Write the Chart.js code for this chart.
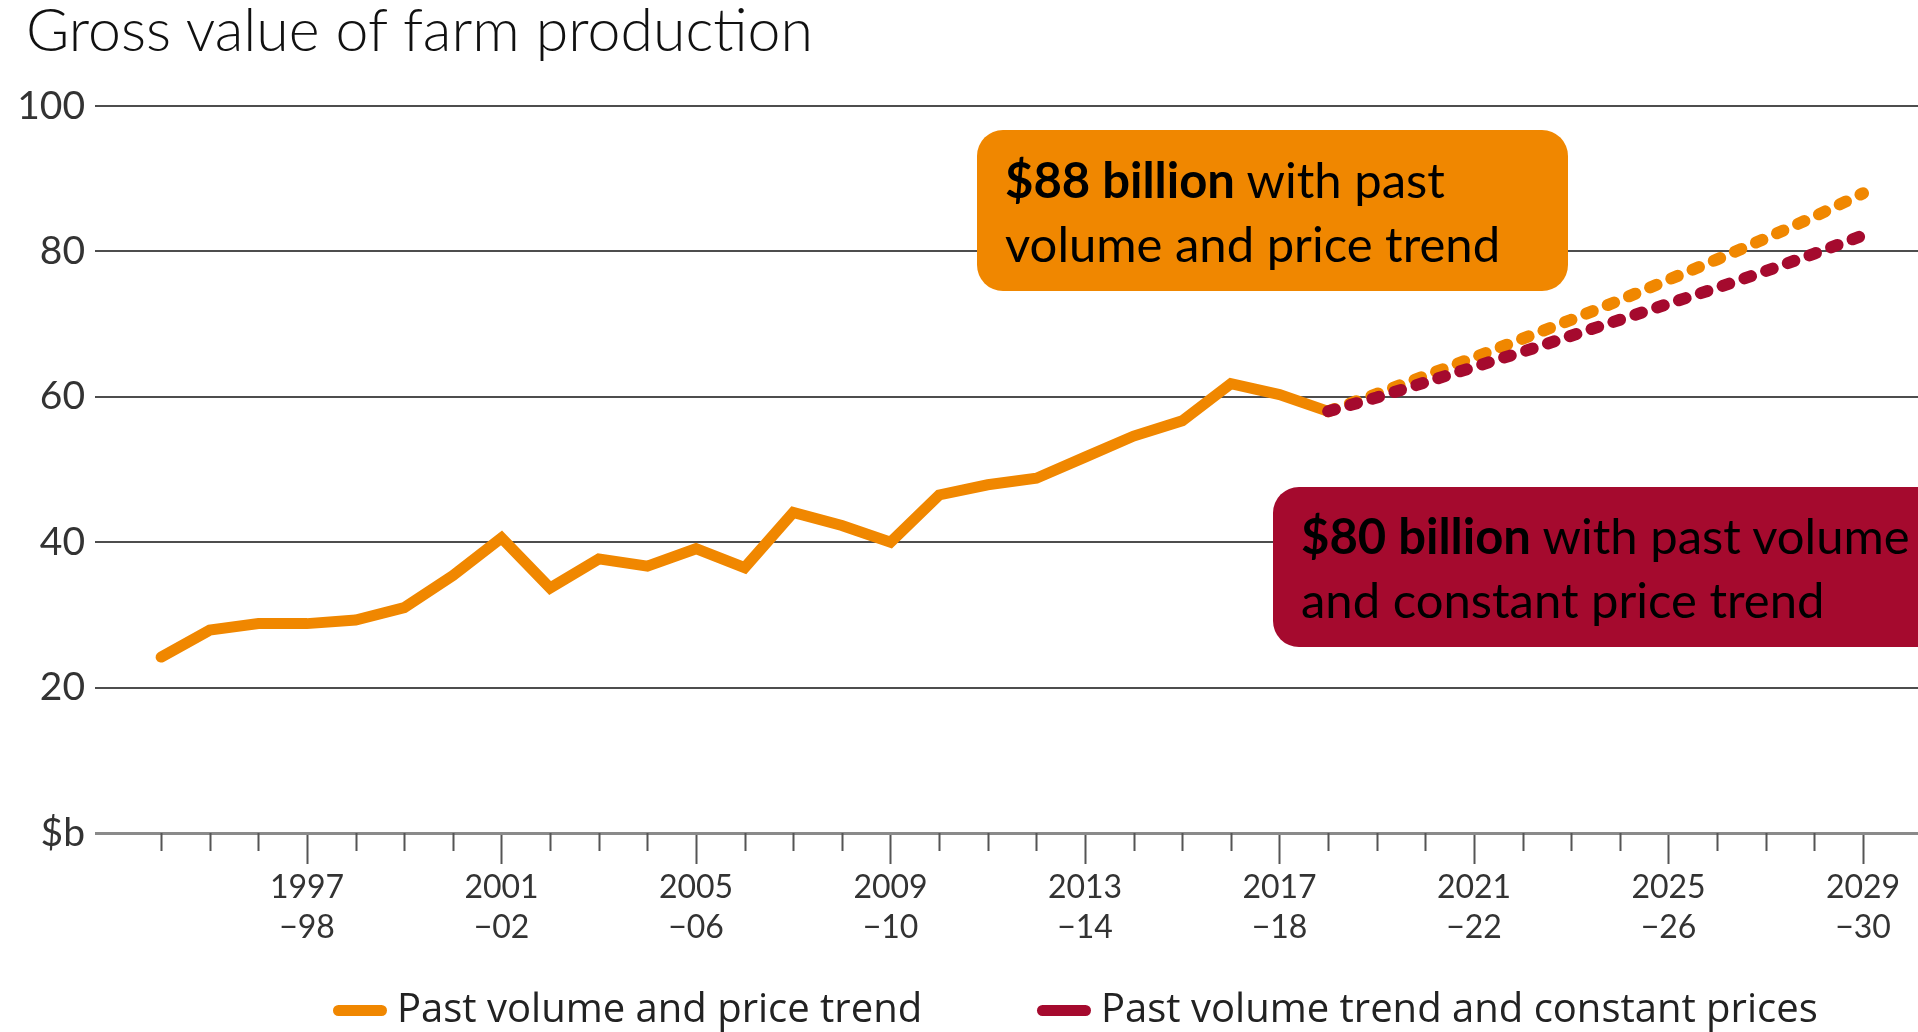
<!DOCTYPE html>
<html>
<head>
<meta charset="utf-8">
<title>Gross value of farm production</title>
<script src="https://cdn.jsdelivr.net/npm/chart.js@4.4.1/dist/chart.umd.min.js"></script>
<style>
  html, body { margin: 0; padding: 0; background: #fff; }
  #wrap { position: relative; width: 1918px; height: 1032px; overflow: hidden; }
  #chart { position: absolute; left: 0; top: 0; }
  .title { position: absolute; left: 26px; top: -6px; font: 300 59px/1.2 Lato, sans-serif; color: #111; white-space: nowrap; }
  .note { position: absolute; box-sizing: border-box; border-radius: 26px; font: 49px/64px Lato, sans-serif; color: #000; white-space: nowrap; padding-left: 28px; }
  .note b { font-weight: 700; }
  .note.orange { left: 977px; top: 130px; width: 591px; height: 161px; padding-top: 17px; background: #F08700; }
  .note.red { left: 1273px; top: 487px; width: 700px; height: 160px; padding-top: 16px; background: #A50A2E; }
  .legend-item { position: absolute; top: 982px; display: flex; align-items: center; font: 40px/50px "Liberation Sans Narrow", "Open Sans", sans-serif; color: #222; white-space: nowrap; }
  .swatch { width: 54px; height: 11px; border-radius: 6px; margin-right: 10px; position: relative; top: 3px; }
</style>
</head>
<body>
<div id="wrap">
  <canvas id="chart" width="1918" height="1032"></canvas>
  <div class="title">Gross value of farm production</div>
  <div class="note orange"><b>$88 billion</b> with past<br>volume and price trend</div>
  <div class="note red"><b>$80 billion</b> with past volume<br>and constant price trend</div>
  <div id="legend"></div>
</div>
<script>
// financial years on the x axis
const years = [
  "1994–95", "1995–96", "1996–97", "1997–98", "1998–99", "1999–00",
  "2000–01", "2001–02", "2002–03", "2003–04", "2004–05", "2005–06",
  "2006–07", "2007–08", "2008–09", "2009–10", "2010–11", "2011–12",
  "2012–13", "2013–14", "2014–15", "2015–16", "2016–17", "2017–18",
  "2018–19", "2019–20", "2020–21", "2021–22", "2022–23", "2023–24",
  "2024–25", "2025–26", "2026–27", "2027–28", "2028–29", "2029–30",
];

// $b, 1994–95 .. 2018–19
const pastValues = [
  24.2, 27.9, 28.8, 28.8, 29.3, 31.0, 35.4, 40.6, 33.7, 37.7,
  36.7, 39.1, 36.5, 44.1, 42.3, 40.0, 46.5, 47.9, 48.8, 51.7,
  54.6, 56.7, 61.8, 60.3, 58.0,
];

// projections, 2018–19 .. 2029–30
const projectionStart = "2018–19";
const trendValues = [58.0, 60.4, 62.9, 65.4, 68.0, 70.6, 73.3, 76.1, 78.9, 81.8, 84.8, 88.0];
const constantPriceValues = [58.0, 59.9, 62.0, 64.1, 66.2, 68.4, 70.6, 72.8, 75.0, 77.3, 79.7, 82.2];

const legendLabels = ["Past volume and price trend", "Past volume trend and constant prices"];
const yTickStep = 20;
const yMax = 100;

const ORANGE = "#F08700";
const RED = "#A50A2E";

const startIdx = years.indexOf(projectionStart);
const isMajor = (i) => i % 4 === 3;

Chart.defaults.font.family = "Lato, sans-serif";

// short tick marks for the in-between years
const minorTicks = {
  id: "minorTicks",
  afterDraw(chart) {
    const xs = chart.scales.x;
    const y0 = chart.scales.y.getPixelForValue(0);
    const ctx = chart.ctx;
    ctx.save();
    ctx.strokeStyle = "#555";
    ctx.lineWidth = 2;
    ctx.beginPath();
    years.forEach((_, i) => {
      if (isMajor(i)) return;
      const x = Math.round(xs.getPixelForValue(i)) + 0.5;
      ctx.moveTo(x, y0);
      ctx.lineTo(x, y0 + 18);
    });
    ctx.stroke();
    ctx.restore();
  },
};

const chart = new Chart(document.getElementById("chart"), {
  type: "line",
  data: {
    datasets: [
      {
        label: legendLabels[1],
        data: constantPriceValues.map((v, i) => ({ x: startIdx + i, y: v })),
        borderColor: RED,
        backgroundColor: RED,
        borderWidth: 12,
        borderDash: [7, 16],
        borderCapStyle: "round",
        pointRadius: 0,
        tension: 0,
        order: 0,
      },
      {
        label: legendLabels[0],
        data: pastValues.map((v, i) => ({ x: i, y: v })),
        borderColor: ORANGE,
        backgroundColor: ORANGE,
        borderWidth: 11,
        borderCapStyle: "round",
        pointRadius: 0,
        tension: 0,
        order: 1,
      },
      {
        label: "trend projection",
        data: trendValues.map((v, i) => ({ x: startIdx + i, y: v })),
        borderColor: ORANGE,
        backgroundColor: ORANGE,
        borderWidth: 12,
        borderDash: [7, 16],
        borderCapStyle: "round",
        pointRadius: 0,
        tension: 0,
        order: 2,
      },
    ],
  },
  options: {
    responsive: false,
    animation: false,
    layout: { padding: { top: 106, right: 0, bottom: 0, left: 0 } },
    plugins: {
      legend: { display: false },
      tooltip: { enabled: false },
      title: { display: false },
    },
    scales: {
      x: {
        type: "linear",
        min: -1.36,
        max: 36.13,
        afterBuildTicks: (scale) => {
          scale.ticks = years.map((_, i) => i).filter(isMajor).map((v) => ({ value: v }));
        },
        afterFit: (scale) => { scale.height = 199; },
        ticks: {
          autoSkip: false,
          maxRotation: 0,
          padding: 4,
          color: "#333",
          font: { size: 32, lineHeight: 1.25 },
          callback: (value) => {
            const [a, b] = years[value].split("–");
            return [a, "−" + b];
          },
        },
        grid: {
          drawOnChartArea: false,
          drawTicks: true,
          tickLength: 31,
          tickColor: "#555",
          tickWidth: 2,
        },
        border: { display: false },
      },
      y: {
        min: 0,
        max: yMax,
        afterFit: (scale) => { scale.width = 95; },
        ticks: {
          stepSize: yTickStep,
          padding: 10,
          color: "#333",
          font: { size: 39 },
          callback: (v) => (v === 0 ? "$b" : v),
        },
        grid: {
          drawTicks: false,
          color: (c) => (c.tick && c.tick.value === 0 ? "#8a8a8a" : "#4d4d4d"),
          lineWidth: (c) => (c.tick && c.tick.value === 0 ? 3 : 2),
        },
        border: { display: false },
      },
    },
  },
  plugins: [minorTicks],
});

// html legend from the two labelled series
const legendEl = document.getElementById("legend");
const legendPos = [333, 1037];
[ORANGE, RED].forEach((color, i) => {
  const item = document.createElement("div");
  item.className = "legend-item";
  item.style.left = legendPos[i] + "px";
  const sw = document.createElement("span");
  sw.className = "swatch";
  sw.style.background = color;
  const txt = document.createElement("span");
  txt.textContent = legendLabels[i];
  item.appendChild(sw);
  item.appendChild(txt);
  legendEl.appendChild(item);
});
</script>
</body>
</html>
